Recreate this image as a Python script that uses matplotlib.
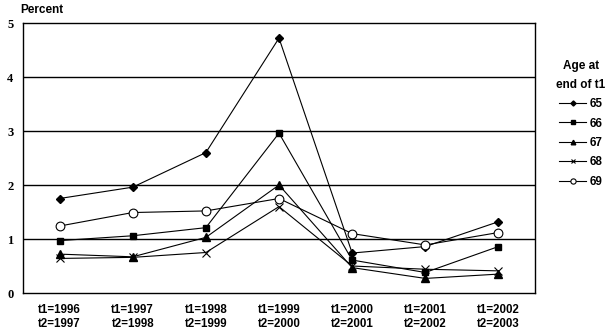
import numpy as np
import matplotlib.pyplot as plt

# 各年龄组的百分比
periods = ['t1=1996\nt2=1997', 't1=1997\nt2=1998', 't1=1998\nt2=1999',
           't1=1999\nt2=2000', 't1=2000\nt2=2001', 't1=2001\nt2=2002',
           't1=2002\nt2=2003']
y_ticks = [0, 1, 2, 3, 4, 5]

age_65 = [1.75, 1.96, 2.60, 4.72, 0.74, 0.86, 1.32]
age_66 = [0.97, 1.06, 1.21, 2.96, 0.61, 0.38, 0.86]
age_67 = [0.72, 0.67, 1.03, 2.00, 0.47, 0.27, 0.35]
age_68 = [0.64, 0.66, 0.75, 1.60, 0.50, 0.44, 0.41]
age_69 = [1.24, 1.49, 1.52, 1.75, 1.10, 0.89, 1.12]

plt.rcParams['font.family'] = ['Liberation Sans', 'DejaVu Sans']
plt.rcParams['font.weight'] = 'bold'

fig = plt.figure(figsize=(6.16, 3.35), dpi=100)
ax = fig.add_axes([23 / 616, 42 / 335, 512 / 616, 270 / 335])

x = np.arange(len(periods))
ax.plot(x, age_65, color='black', lw=0.8, marker='D', ms=4.3, label='65')
ax.plot(x, age_66, color='black', lw=0.8, marker='s', ms=4.5, label='66')
ax.plot(x, age_67, color='black', lw=0.8, marker='^', ms=5.5, label='67')
ax.plot(x, age_68, color='black', lw=0.8, marker='x', ms=5.5, mew=0.8, label='68')
ax.plot(x, age_69, color='black', lw=0.8, marker='o', ms=6.3, mfc='white',
        mew=0.8, label='69')

ax.set_xlim(-0.5, len(periods) - 0.5)
ax.set_ylim(0, 5)
ax.set_xticks(x)
ax.set_xticklabels(periods, fontsize=8.3, fontweight='bold', linespacing=1.25)
ax.set_yticks(y_ticks)
ax.set_yticklabels([str(v) for v in y_ticks], fontsize=9, fontweight='bold',
                   family='Liberation Serif')
ax.tick_params(axis='x', length=0, pad=8)
ax.tick_params(axis='y', length=0, pad=7)
for v in y_ticks[1:-1]:
    ax.axhline(v, color='black', lw=1, zorder=0)
for s in ax.spines.values():
    s.set_linewidth(1)

fig.text(20 / 616, 1 - 10 / 335, 'Percent', fontsize=8.5, fontweight='bold',
         va='center', ha='left')

leg = ax.legend(loc='upper left', bbox_to_anchor=(547 / 616, 1 - 51 / 335),
                bbox_transform=fig.transFigure, frameon=False, fontsize=8.3,
                title='Age at\nend of t1', markerscale=0.6, handlelength=2.4,
                handletextpad=0.3, labelspacing=0.65, borderpad=0.3)
leg.get_title().set_fontweight('bold')
leg.get_title().set_fontsize(8.5)
leg.get_title().set_multialignment('center')
leg.get_title().set_linespacing(1.7)

fig.savefig('out.png', dpi=100)
